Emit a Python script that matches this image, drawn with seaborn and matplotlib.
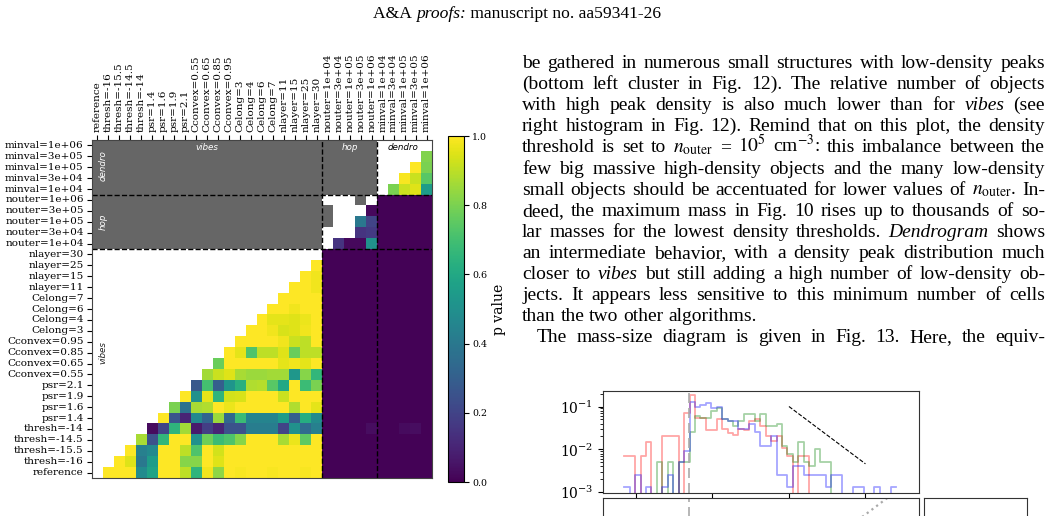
import numpy as np
import pandas as pd
import matplotlib
matplotlib.use('Agg')
import matplotlib.pyplot as plt
import matplotlib.transforms as mtransforms
from matplotlib.colors import ListedColormap
import seaborn as sns

# ---------------- data ----------------
labels = ['reference', 'thresh=-16', 'thresh=-15.5', 'thresh=-14.5', 'thresh=-14',
          'psr=1.4', 'psr=1.6', 'psr=1.9', 'psr=2.1',
          'Cconvex=0.55', 'Cconvex=0.65', 'Cconvex=0.85', 'Cconvex=0.95',
          'Celong=3', 'Celong=4', 'Celong=6', 'Celong=7',
          'nlayer=11', 'nlayer=15', 'nlayer=25', 'nlayer=30',
          'nouter=1e+04', 'nouter=3e+04', 'nouter=1e+05', 'nouter=3e+05', 'nouter=1e+06',
          'minval=1e+04', 'minval=3e+04', 'minval=1e+05', 'minval=3e+05', 'minval=1e+06']

# p values above the diagonal, row by row (vibes block)
vibes_p = [
    [1.0, 1.0, 1.0, 0.48, 0.58, 1.0, 1.0, 0.9, 0.65, 0.98, 0.83, 1.0, 0.99, 1.0, 1.0, 0.99, 1.0, 1.0, 0.99, 1.0],
    [1.0, 0.95, 0.4, 0.55, 1.0, 1.0, 0.82, 0.82, 1.0, 0.95, 1.0, 1.0, 1.0, 1.0, 1.0, 1.0, 1.0, 1.0, 1.0],
    [1.0, 0.43, 0.47, 1.0, 1.0, 0.9, 0.72, 1.0, 0.93, 1.0, 1.0, 1.0, 1.0, 1.0, 1.0, 1.0, 1.0, 1.0],
    [0.87, 0.25, 0.66, 1.0, 1.0, 0.5, 0.78, 0.68, 0.72, 0.82, 1.0, 1.0, 1.0, 0.87, 0.97, 0.75, 1.0],
    [0.03, 0.2, 0.65, 0.86, 0.07, 0.18, 0.1, 0.25, 0.25, 0.42, 0.42, 0.42, 0.2, 0.5, 0.35, 0.43],
    [1.0, 0.26, 0.1, 0.47, 0.32, 0.85, 0.33, 0.68, 0.45, 0.45, 0.45, 0.55, 0.3, 0.62, 0.48],
    [0.8, 0.37, 0.87, 0.88, 1.0, 0.97, 1.0, 1.0, 1.0, 1.0, 1.0, 0.88, 1.0, 0.96],
    [1.0, 0.5, 0.96, 0.65, 0.93, 0.94, 1.0, 1.0, 1.0, 0.92, 1.0, 1.0, 1.0],
    [0.27, 0.7, 0.3, 0.52, 0.63, 0.88, 0.89, 0.74, 0.6, 1.0, 0.68, 0.8],
    [0.86, 0.92, 0.95, 0.87, 0.85, 0.85, 0.86, 0.86, 0.53, 0.82, 0.66],
    [0.77, 1.0, 1.0, 1.0, 1.0, 1.0, 0.96, 0.98, 0.96, 1.0],
    [1.0, 0.96, 0.72, 0.9, 0.9, 0.95, 0.77, 0.9, 0.9],
    [1.0, 1.0, 1.0, 1.0, 0.98, 0.92, 0.9, 1.0],
    [1.0, 1.0, 0.98, 0.94, 0.95, 0.98, 1.0],
    [1.0, 0.96, 0.96, 0.95, 0.97, 1.0],
    [1.0, 1.0, 0.98, 1.0, 1.0],
    [1.0, 1.0, 1.0, 1.0],
    [1.0, 1.0, 0.98],
    [1.0, 0.98],
    [1.0],
]
hop_p = [
    [0.15, 0.02, 0.02, 0.5],
    [np.nan, 0.15, 0.17, 0.3],
    [0.4, 0.2],
    [0.02],
]
dendro_p = [
    [0.8, 0.92, 0.95, 0.55],
    [0.99, 0.92, 0.74],
    [1.0, 0.8],
    [0.81],
]
cross_p = 0.005
thresh14_cross = {'nouter=1e+06': 0.035, 'minval=1e+05': 0.03, 'minval=3e+05': 0.035}
hop_gray_cells = [('nouter=1e+05', 'nouter=1e+04'), ('nouter=3e+05', 'nouter=1e+04'),
                  ('nouter=1e+06', 'nouter=3e+05')]

# histogram (bin heights, 50 bins)
hist_red = [0.007, 0.007, 0, 0.007, 0.015, 0, 0, 0.021, 0.021, 0.021, 0, 0.07, 0.19, 0.055, 0.055,
            0.028, 0.028, 0.05, 0.03, 0.024, 0.022, 0.03, 0.028, 0.045, 0.05, 0.035, 0.02, 0.016,
            0.02, 0.011, 0.007, 0, 0.007, 0.007, 0, 0, 0, 0, 0, 0, 0, 0, 0, 0, 0, 0, 0, 0, 0, 0]
hist_green = [0, 0, 0, 0, 0, 0, 0.005, 0, 0.005, 0, 0.005, 0.005, 0.026, 0.06, 0.055, 0.055, 0.08,
              0.09, 0.05, 0.045, 0.035, 0.045, 0.067, 0.067, 0.045, 0.067, 0.035, 0.035, 0.04, 0.012,
              0.008, 0.005, 0.015, 0.005, 0.004, 0.01, 0.005, 0.005, 0, 0, 0, 0, 0, 0, 0, 0, 0, 0, 0, 0]
hist_blue = [0.0013, 0, 0.0025, 0, 0.0013, 0, 0, 0.0013, 0.0025, 0, 0.005, 0.009, 0.13, 0.1, 0.11,
             0.12, 0.09, 0.1, 0.05, 0.045, 0.045, 0.03, 0.03, 0.04, 0.025, 0.012, 0.012, 0.02, 0.0025,
             0.0025, 0.0013, 0.004, 0.004, 0.0025, 0.0025, 0.0025, 0.0025, 0.0013, 0.0025, 0.0025, 0,
             0, 0.0013, 0.0013, 0, 0, 0.0013, 0, 0, 0.0013]
slope_x = [2.0, 3.0]
slope_y = [0.1, 0.0046]
mr_x = [2.8, 3.32]
mr_y = [0.72, 1.02]

body_lines = [
    "be gathered in numerous small structures with low-density peaks",
    "(bottom left cluster in Fig. 12). The relative number of objects",
    "with high peak density is also much lower than for *vibes* (see",
    "right histogram in Fig. 12). Remind that on this plot, the density",
    r"threshold is set to $n_{\mathrm{outer}}$ = $10^5$ cm$^{-3}$: this imbalance between the",
    "few big massive high-density objects and the many low-density",
    r"small objects should be accentuated for lower values of $n_{\mathrm{outer}}$. In-",
    "deed, the maximum mass in Fig. 10 rises up to thousands of so-",
    "lar masses for the lowest density thresholds. *Dendrogram* shows",
    "an intermediate behavior, with a density peak distribution much",
    "closer to *vibes* but still adding a high number of low-density ob-",
    "jects. It appears less sensitive to this minimum number of cells",
    "than the two other algorithms.",
    "The mass-size diagram is given in Fig. 13. Here, the equiv-",
]

# ---------------- matrices ----------------
n = len(labels)
pv = np.full((n, n), np.nan)
for i, row in enumerate(vibes_p):
    pv[i, i + 1:i + 1 + len(row)] = row
for k, row in enumerate(hop_p):
    i = 21 + k
    pv[i, i + 1:i + 1 + len(row)] = row
for k, row in enumerate(dendro_p):
    i = 26 + k
    pv[i, i + 1:i + 1 + len(row)] = row
pv[0:21, 21:31] = cross_p
pv[21:26, 26:31] = cross_p
for col, v in thresh14_cross.items():
    pv[labels.index('thresh=-14'), labels.index(col)] = v

gray = np.zeros((n, n), dtype=bool)
gray[21:31, 0:21] = True
gray[26:31, 21:26] = True
for r, c in hop_gray_cells:
    gray[labels.index(r), labels.index(c)] = True

df = pd.DataFrame(pv[::-1], index=labels[::-1], columns=labels)
gray_df = pd.DataFrame(gray[::-1], index=labels[::-1], columns=labels)

# ---------------- figure ----------------
plt.rcParams['font.family'] = 'DejaVu Serif'
plt.rcParams['mathtext.fontset'] = 'dejavuserif'
W, H = 1050, 516
fig = plt.figure(figsize=(W / 100, H / 100), dpi=100)
ident = mtransforms.IdentityTransform()

ax = fig.add_axes([92 / W, 1 - 478 / H, 340 / W, 338 / H])
cax = fig.add_axes([448 / W, 1 - 482 / H, 16 / W, 346 / H])

sns.heatmap(gray_df.astype(float), mask=~gray_df, cmap=ListedColormap(['#666666']),
            cbar=False, ax=ax, xticklabels=True, yticklabels=True)
sns.heatmap(df, mask=df.isna(), cmap='viridis', vmin=0, vmax=1, ax=ax, cbar_ax=cax,
            xticklabels=True, yticklabels=True)

tick_size = 7.5
ax.xaxis.tick_top()
ax.set_xlabel('')
ax.set_ylabel('')
ax.set_xticks(np.arange(n) + 0.5)
ax.set_xticklabels(labels, rotation=90, fontsize=tick_size)
ax.set_yticks(np.arange(n) + 0.5)
ax.set_yticklabels(labels[::-1], rotation=0, fontsize=tick_size)
ax.tick_params(axis='both', length=3.5, width=0.8, colors='black', pad=2.5)
for s in ax.spines.values():
    s.set_visible(True)
    s.set_color('#444444')
    s.set_linewidth(0.8)

for b in (21, 26):
    ax.axvline(b, color='black', ls='--', lw=1.0)
for b in (5, 10):
    ax.axhline(b, color='black', ls='--', lw=1.0)

lab_kw = dict(fontsize=6.3, style='italic', family='DejaVu Sans', ha='center', va='center')
ax.text(10.5, 0.72, 'vibes', color='white', **lab_kw)
ax.text(23.5, 0.72, 'hop', color='white', **lab_kw)
ax.text(28.4, 0.72, 'dendro', color='black', **lab_kw)
ax.text(1.0, 2.3, 'dendro', color='white', rotation=90, **lab_kw)
ax.text(1.0, 7.5, 'hop', color='white', rotation=90, **lab_kw)
ax.text(1.0, 19.5, 'vibes', color='#222222', rotation=90, **lab_kw)

cbar = ax.collections[-1].colorbar
cbar.set_ticks([0.0, 0.2, 0.4, 0.6, 0.8, 1.0])
cbar.ax.tick_params(labelsize=6.8, length=3.5, width=0.8, pad=2.5)
cbar.set_label('p value', fontsize=10, labelpad=3)
cbar.outline.set_linewidth(0.8)

# ---------------- histogram panel ----------------
nbins = len(hist_red)
edges = -0.153 + 0.0711 * np.arange(nbins + 1)
centers = 0.5 * (edges[:-1] + edges[1:])
axh = fig.add_axes([603 / W, 1 - 493 / H, 316 / W, 102 / H])
for vals, col in ((hist_red, 'red'), (hist_green, 'green'), (hist_blue, 'blue')):
    hdf = pd.DataFrame({'x': centers, 'w': vals})
    sns.histplot(data=hdf, x='x', weights='w', bins=nbins, binrange=(edges[0], edges[-1]),
                 element='step', fill=False, color=col, alpha=0.35, lw=1.3, ax=axh)
axh.set_yscale('log')
axh.set_ylim(9.6e-4, 0.23)
axh.set_xlim(-0.431, 3.70)
axh.set_xticks([0, 1, 2, 3])
axh.set_xticklabels([])
axh.set_xlabel('')
axh.set_ylabel('')
axh.plot(slope_x, slope_y, color='black', ls='--', lw=0.8)
axh.axvline(0.69, color='#aaaaaa', ls=(0, (6, 3)), lw=1.2)
axh.tick_params(axis='y', labelsize=10)
axh.tick_params(axis='x', length=4)
for s in axh.spines.values():
    s.set_color('#333333')

axl = fig.add_axes([603 / W, 1 - 598 / H, 316 / W, 100 / H])
axl.set_xlim(-0.431, 3.70)
axl.set_ylim(0, 1)
axl.axvline(0.69, color='#aaaaaa', ls=(0, (6, 3)), lw=1.2)
axl.plot(mr_x, mr_y, color='#aaaaaa', ls=':', lw=1.6)
axr = fig.add_axes([924 / W, 1 - 598 / H, 103 / W, 100 / H])
for a in (axl, axr):
    a.set_xticks([])
    a.set_yticks([])
    for s in a.spines.values():
        s.set_color('#333333')

# ---------------- page text ----------------
renderer = fig.canvas.get_renderer()


def fit_size(text, target, size=12.0, style='normal'):
    t = fig.text(0, 0, text, fontsize=size, family='Liberation Serif', style=style,
                 transform=ident)
    w = t.get_window_extent(renderer).width
    t.remove()
    return size * target / w


def place_words(words, y, x0, x1, size, justify=True):
    arts = []
    for w in words:
        style = 'normal'
        if w.startswith('*'):
            style = 'italic'
            w = w.replace('*', '')
        t = fig.text(0, 0, w, fontsize=size, family='Liberation Serif', style=style,
                     math_fontfamily='stix', transform=ident, ha='left', va='baseline')
        arts.append(t)
    widths = [t.get_window_extent(renderer).width for t in arts]
    if justify and len(arts) > 1:
        gap = (x1 - x0 - sum(widths)) / (len(arts) - 1)
    else:
        gap = size * 100 / 72 * 0.25
    x = x0
    for t, wd in zip(arts, widths):
        t.set_position((x, y))
        x += wd + gap


body_size = 0.965 * fit_size(body_lines[0], 1045 - 522)
for k, line in enumerate(body_lines):
    y = H - (68 + 21.1 * k)
    x0 = 537 if k == len(body_lines) - 1 else 522
    place_words(line.split(' '), y, x0, 1045, body_size, justify=(k != 12))

# header
head = [('A&A ', 'normal'), ('proofs:', 'italic'), (' manuscript no. aa59341-26', 'normal')]
head_size = 0.97 * fit_size('A&A proofs: manuscript no. aa59341-26', 296)
harts = [fig.text(0, 0, s, fontsize=head_size, family='Liberation Serif', style=st,
                  transform=ident, ha='left', va='baseline') for s, st in head]
hw = [t.get_window_extent(renderer).width for t in harts]
x = 517 - sum(hw) / 2
for t, wd in zip(harts, hw):
    t.set_position((x, H - 18))
    x += wd

fig.savefig('out.png', dpi=100)
